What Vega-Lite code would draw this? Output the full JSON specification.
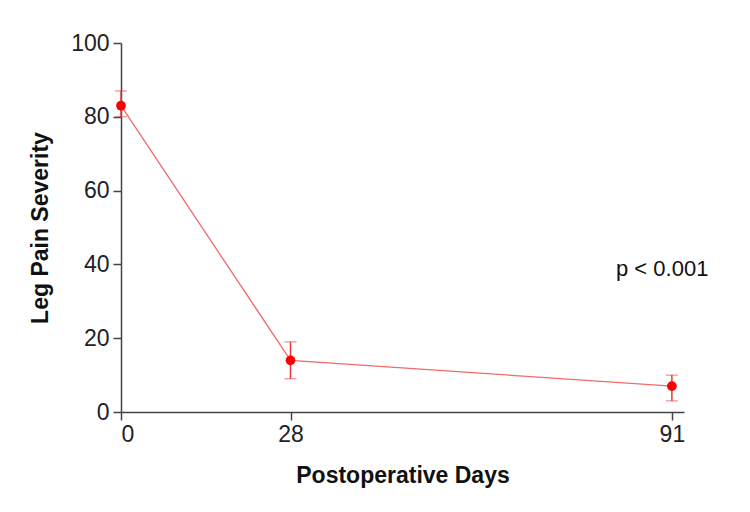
{
  "$schema": "https://vega.github.io/schema/vega-lite/v6.json",
  "width": 563,
  "height": 369,
  "autosize": "none",
  "padding": {"left": 121, "top": 43, "right": 66, "bottom": 100},
  "background": "white",
  "config": {"view": {"stroke": null}, "font": "Liberation Sans"},
  "data": {"values": [
    {"day": 0, "mean": 83, "lo": 80, "hi": 87},
    {"day": 28, "mean": 14, "lo": 9, "hi": 19},
    {"day": 91, "mean": 7, "lo": 3, "hi": 10}
  ]},
  "encoding": {
    "x": {"field": "day", "type": "quantitative", "scale": {"domain": [0, 93], "nice": false, "zero": false},
      "axis": {"values": [0, 28, 91], "title": "Postoperative Days", "grid": false, "domainColor": "#444", "domainWidth": 1.5, "tickColor": "#444", "tickWidth": 1.5, "tickSize": 8, "labelFontSize": 23, "labelColor": "#222", "labelPadding": 3, "titleFontSize": 23, "titleFontWeight": "bold", "titleColor": "#111", "titlePadding": 18}}
  },
  "layer": [
    {"mark": {"type": "line", "color": "#f06a6a", "strokeWidth": 1.3},
     "encoding": {"y": {"field": "mean", "type": "quantitative", "scale": {"domain": [0, 100], "nice": false},
       "axis": {"values": [0, 20, 40, 60, 80, 100], "title": "Leg Pain Severity", "grid": false, "domainColor": "#444", "domainWidth": 1.5, "tickColor": "#444", "tickWidth": 1.5, "tickSize": 8, "labelFontSize": 23, "labelColor": "#222", "labelPadding": 4, "titleFontSize": 23, "titleFontWeight": "bold", "titleColor": "#111", "titlePadding": 18}}}},
    {"mark": {"type": "errorbar", "ticks": {"size": 12, "color": "#e8383b", "strokeWidth": 1.5}, "rule": {"color": "#e8383b", "strokeWidth": 1.5}},
     "encoding": {"y": {"field": "lo", "type": "quantitative", "title": "Leg Pain Severity"}, "y2": {"field": "hi"}}},
    {"mark": {"type": "point", "filled": true, "color": "#ff0000", "size": 95, "opacity": 1},
     "encoding": {"y": {"field": "mean", "type": "quantitative"}}},
    {"data": {"values": [{"day": 89.4, "v": 38.7, "t": "p < 0.001"}]},
     "mark": {"type": "text", "fontSize": 22, "color": "#111", "align": "center", "baseline": "middle"},
     "encoding": {"y": {"field": "v", "type": "quantitative"}, "text": {"field": "t"}}}
  ]
}
